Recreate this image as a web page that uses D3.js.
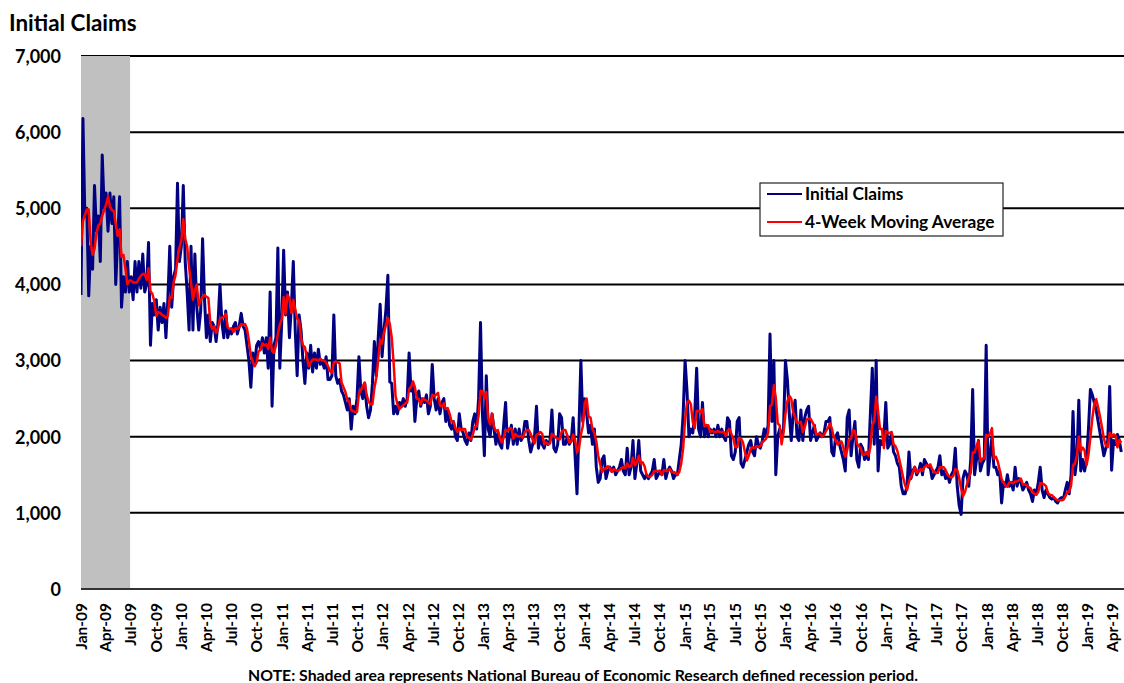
<!DOCTYPE html>
<html>
<head>
<meta charset="utf-8">
<script src="https://cdn.jsdelivr.net/npm/d3@7"></script>
<style>
  body { margin: 0; background: #fff; }
  svg { display: block; }
  text { font-family: Lato, "Open Sans", sans-serif; font-weight: bold; fill: #000; }
</style>
</head>
<body>
<svg id="chart" width="1124" height="683"></svg>
<script>
// ---------------- DATA ----------------
const firstWeek = "2009-01-03";   // week ending date of first observation
const seriesNames = ["Initial Claims", "4-Week Moving Average"];
const yTicks = [0, 1000, 2000, 3000, 4000, 5000, 6000, 7000];
const tickStart = "2009-01-01";
const tickEnd = "2019-04-01";
const recession = ["2009-01-03", "2009-06-30"];
// first three moving-average values (need Dec-2008 data)
const maStart = [4500, 4830, 4910];

const claims2009 = [3860,6180,4900,5000,3850,4500,4200,5300,4700,4900,4300,5700,5000,5200,4700,5200,4800,5150,4000,4600,5150,3700,4100,3900,4300,3900,
  4100,3800,4300,3900,4300,3950,4400,3900,4000,4550,3200,3750,3600,3800,3400,3700,3500,3750,3300,3800,4500,3700,4100,4200,5330,4300];
const claims2010 = [4500,5300,4300,3900,3400,4500,3400,4400,3700,3400,3650,4600,3800,3300,3600,3250,3500,3450,3250,3500,
  4000,3500,3300,3650,3300,3400,3350,3450,3500,3350,3450,3620,3450,3400,3200,3000,2650,3100,2950,3200,
  3250,3150,3300,3100,3300,2900,3900,2400,3200,3300,4480,2900];
const claims2011 = [3500,4450,3600,3900,3300,3700,4300,3400,2800,3600,3400,3000,2700,3100,2900,3200,2850,3100,2900,3150,
  2950,3000,2900,3050,2750,2750,2800,3600,2800,2700,2750,2600,2550,2450,2350,2500,2100,2400,2300,2500,
  3050,2600,2500,2700,2400,2250,2350,2700,3250,2800,3300,3740];
const claims2012 = [3050,3400,3670,4120,2720,2700,2300,2400,2300,2450,2400,2500,2400,2500,3100,2600,2700,2200,2500,2600,
  2400,2500,2450,2550,2300,2400,2950,2500,2350,2500,2300,2450,2500,2200,2350,2150,2100,2200,2000,1950,
  2300,2100,2050,1950,1900,2050,1950,2200,2300,2100,2500,3500];
const claims2013 = [2300,1750,2800,2100,2000,2300,2100,1900,2050,1900,1850,2150,2450,1850,2000,2150,1900,2100,1900,2100,
  1950,2000,2200,2200,1950,1800,1900,2000,2400,1850,2000,1900,1850,1950,1900,1950,2350,1850,1800,1900,
  2300,2250,1900,1900,2000,1900,1950,2250,1750,1250,2100,3000];
const claims2014 = [2200,2500,2300,2050,2150,1900,2100,1600,1400,1450,1700,1750,1450,1550,1600,1550,1600,1500,1550,1600,
  1700,1550,1500,1850,1500,1600,1950,1450,1650,1950,1550,1500,1450,1500,1450,1500,1550,1700,1450,1500,
  1550,1500,1700,1450,1550,1600,1550,1450,1500,1500,1700,1900];
const claims2015 = [2300,3000,2600,2000,2100,2050,2300,2900,2100,2000,2450,2000,2150,2000,2100,2050,2100,2000,2150,2000,
  2100,2000,1950,2250,2200,1750,1700,1800,2200,2250,1650,1600,1700,1800,1900,1950,1800,1750,2000,1900,
  1850,1950,2100,2000,2150,3350,2200,3000,1500,2000,2100,2000];
const claims2016 = [2100,3000,2750,2300,1950,2300,2480,2000,1950,2350,1950,2250,2350,2400,1950,2050,2150,1950,2000,2050,
  2000,2050,2200,2200,2250,1800,1750,2000,2050,1900,1800,1700,1550,2250,2350,1750,2000,2200,1700,1600,
  1900,1850,1700,1750,1700,2300,2900,1900,3000,1550,1950,1900];
const claims2017 = [2000,2450,1850,1900,2050,1800,1750,1650,1600,1350,1250,1250,1350,1800,1450,1550,1600,1500,1550,1650,
  1500,1700,1650,1600,1600,1450,1500,1550,1600,1750,1500,1550,1450,1500,1400,1500,1550,1850,1350,1100,
  980,1450,1550,1500,1350,1700,2620,1500,1700,1950,1550,1650];
const claims2018 = [1700,3200,1500,1750,2000,1600,1600,1500,1550,1130,1400,1350,1500,1350,1400,1300,1600,1350,1450,1400,
  1300,1350,1400,1300,1250,1150,1300,1250,1400,1600,1300,1200,1300,1250,1200,1180,1200,1150,1130,1180,
  1200,1180,1300,1400,1250,1500,2330,1500,1700,2480,1550,1700];
const claims2019 = [1550,1700,2100,2620,2550,2450,2350,2200,2050,1900,1750,1850,1950,2660,1560,1950,1900,2030,1950,1800];

const claims = [].concat(claims2009, claims2010, claims2011, claims2012, claims2013, claims2014,
                         claims2015, claims2016, claims2017, claims2018, claims2019);

// ---------------- BUILD ----------------
const parse = d3.utcParse("%Y-%m-%d");
const t0 = parse(firstWeek);
const data = claims.map((v, i) => ({ date: d3.utcWeek.offset(t0, i), value: v }));
const ma = claims.map((v, i) => ({
  date: data[i].date,
  value: i < 3 ? maStart[i] : d3.mean(claims.slice(i - 3, i + 1))
}));

const svg = d3.select("#chart");
const plot = { left: 81, right: 1124, top: 56, bottom: 589 };
const pxPerWeek = 1.93;

const x = d3.scaleUtc()
  .domain([t0, d3.utcWeek.offset(t0, 539)])
  .range([plot.left, plot.left + pxPerWeek * 539]);
const y = d3.scaleLinear().domain([0, 7000]).range([plot.bottom, plot.top]);

// title
svg.append("text").attr("x", 9).attr("y", 31)
  .style("font-size", "22.4px").text("Initial Claims");

// gridlines
svg.append("g").selectAll("line").data(yTicks).join("line")
  .attr("x1", plot.left).attr("x2", plot.right)
  .attr("y1", d => y(d)).attr("y2", d => y(d))
  .attr("stroke", d => d === 0 ? "#333" : "#000")
  .attr("stroke-width", 2);

// recession shading
svg.append("rect")
  .attr("x", plot.left)
  .attr("width", x(parse(recession[1])) - plot.left)
  .attr("y", plot.top).attr("height", plot.bottom - plot.top - 1)
  .attr("fill", "#c0c0c0");

// y axis
const yAxis = svg.append("g").attr("transform", `translate(${plot.left},0)`)
  .call(d3.axisLeft(y).tickValues(yTicks).tickFormat(d3.format(",")).tickSize(0).tickPadding(20));
yAxis.select(".domain").remove();
yAxis.selectAll("text").style("font-size", "18px").style("font-family", "Lato, sans-serif").attr("dy", "0.35em");

// x axis
const xTicks = d3.utcMonth.every(3).range(parse(tickStart), d3.utcDay.offset(parse(tickEnd), 1));
const xAxis = svg.append("g").attr("transform", `translate(0,${plot.bottom})`)
  .call(d3.axisBottom(x).tickValues(xTicks).tickFormat(d3.utcFormat("%b-%y")).tickSize(0));
xAxis.select(".domain").remove();
xAxis.selectAll("text")
  .attr("transform", "rotate(-90)")
  .attr("text-anchor", "end")
  .attr("x", -14).attr("y", 0).attr("dy", "0.36em")
  .style("font-size", "15.5px").style("font-family", "Lato, sans-serif");

// lines
svg.append("clipPath").attr("id", "clip").append("rect")
  .attr("x", plot.left).attr("y", 0).attr("width", plot.right - plot.left).attr("height", plot.bottom + 2);
const line = d3.line().x(d => x(d.date)).y(d => y(d.value));
svg.append("path").datum(data).attr("clip-path", "url(#clip)")
  .attr("fill", "none").attr("stroke", "#000080").attr("stroke-width", 3)
  .attr("stroke-linejoin", "round").attr("d", line);
svg.append("path").datum(ma).attr("clip-path", "url(#clip)")
  .attr("fill", "none").attr("stroke", "#ff0000").attr("stroke-width", 2.5)
  .attr("stroke-linejoin", "round").attr("d", line);

// legend
const lg = svg.append("g");
lg.append("rect").attr("x", 760).attr("y", 183).attr("width", 243).attr("height", 53)
  .attr("fill", "#fff").attr("stroke", "#222").attr("stroke-width", 1.2);
const legendColors = ["#000080", "#ff0000"];
seriesNames.forEach((name, i) => {
  const yy = 194 + i * 28;
  lg.append("line").attr("x1", 767).attr("x2", 802).attr("y1", yy).attr("y2", yy)
    .attr("stroke", legendColors[i]).attr("stroke-width", 2);
  lg.append("text").attr("x", 805).attr("y", yy + 6).style("font-size", "17.3px").text(name);
});

// note
svg.append("text").attr("x", 583).attr("y", 681).attr("text-anchor", "middle")
  .style("font-size", "15.8px")
  .text("NOTE: Shaded area represents National Bureau of Economic Research defined recession period.");
</script>
</body>
</html>
